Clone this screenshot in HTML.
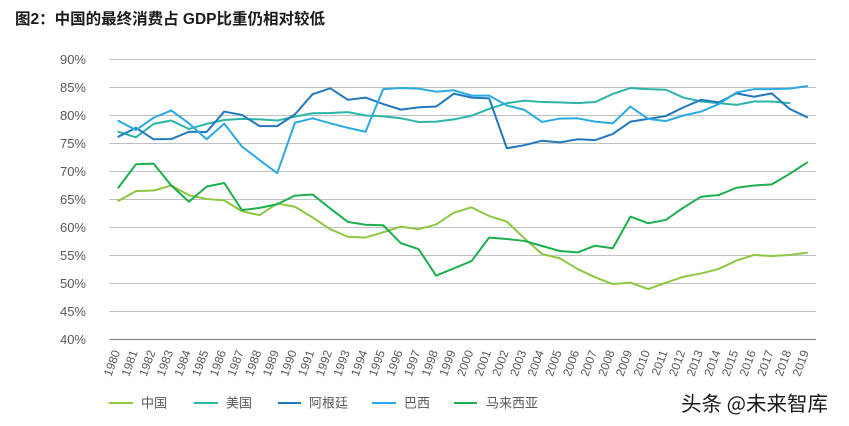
<!DOCTYPE html>
<html>
<head>
<meta charset="utf-8">
<style>
  html,body{margin:0;padding:0;background:#fff;}
  body{width:849px;height:426px;overflow:hidden;}
  svg{display:block;}
  .yl{font-family:"Liberation Sans","Noto Sans CJK SC",sans-serif;font-size:13px;fill:#595959;}
  .xl{font-family:"Liberation Sans","Noto Sans CJK SC",sans-serif;font-size:12px;fill:#595959;}
  .lg{font-family:"Liberation Sans","Noto Sans CJK SC",sans-serif;font-size:13px;fill:#595959;}
</style>
</head>
<body>
<svg width="849" height="426" viewBox="0 0 849 426" xmlns="http://www.w3.org/2000/svg">
  <text x="15" y="24" font-family="'Liberation Sans','Noto Sans CJK SC',sans-serif" font-size="15.5" font-weight="bold" fill="#1a1a1a">图2：中国的最终消费占 GDP比重仍相对较低</text>

  <g stroke="#BFBFBF" stroke-width="1">
    <line x1="109.5" y1="59.5" x2="816" y2="59.5"/>
    <line x1="109.5" y1="87.5" x2="816" y2="87.5"/>
    <line x1="109.5" y1="115.5" x2="816" y2="115.5"/>
    <line x1="109.5" y1="143.5" x2="816" y2="143.5"/>
    <line x1="109.5" y1="171.5" x2="816" y2="171.5"/>
    <line x1="109.5" y1="199.5" x2="816" y2="199.5"/>
    <line x1="109.5" y1="227.5" x2="816" y2="227.5"/>
    <line x1="109.5" y1="255.5" x2="816" y2="255.5"/>
    <line x1="109.5" y1="283.5" x2="816" y2="283.5"/>
    <line x1="109.5" y1="311.5" x2="816" y2="311.5"/>
  </g>
  <line x1="109.5" y1="339.5" x2="816" y2="339.5" stroke="#8C8C8C" stroke-width="1.3"/>

  <g class="yl" text-anchor="end" dominant-baseline="central">
    <text x="86" y="59.5">90%</text>
    <text x="86" y="87.5">85%</text>
    <text x="86" y="115.5">80%</text>
    <text x="86" y="143.5">75%</text>
    <text x="86" y="171.5">70%</text>
    <text x="86" y="199.5">65%</text>
    <text x="86" y="227.5">60%</text>
    <text x="86" y="255.5">55%</text>
    <text x="86" y="283.5">50%</text>
    <text x="86" y="311.5">45%</text>
    <text x="86" y="339.5">40%</text>
  </g>

  <g class="xl" text-anchor="end">
    <text transform="translate(120.3,352) rotate(-70)">1980</text>
    <text transform="translate(137.96,352) rotate(-70)">1981</text>
    <text transform="translate(155.62,352) rotate(-70)">1982</text>
    <text transform="translate(173.28,352) rotate(-70)">1983</text>
    <text transform="translate(190.94,352) rotate(-70)">1984</text>
    <text transform="translate(208.6,352) rotate(-70)">1985</text>
    <text transform="translate(226.26,352) rotate(-70)">1986</text>
    <text transform="translate(243.92,352) rotate(-70)">1987</text>
    <text transform="translate(261.58,352) rotate(-70)">1988</text>
    <text transform="translate(279.24,352) rotate(-70)">1989</text>
    <text transform="translate(296.9,352) rotate(-70)">1990</text>
    <text transform="translate(314.56,352) rotate(-70)">1991</text>
    <text transform="translate(332.22,352) rotate(-70)">1992</text>
    <text transform="translate(349.88,352) rotate(-70)">1993</text>
    <text transform="translate(367.54,352) rotate(-70)">1994</text>
    <text transform="translate(385.2,352) rotate(-70)">1995</text>
    <text transform="translate(402.86,352) rotate(-70)">1996</text>
    <text transform="translate(420.52,352) rotate(-70)">1997</text>
    <text transform="translate(438.18,352) rotate(-70)">1998</text>
    <text transform="translate(455.84,352) rotate(-70)">1999</text>
    <text transform="translate(473.5,352) rotate(-70)">2000</text>
    <text transform="translate(491.16,352) rotate(-70)">2001</text>
    <text transform="translate(508.82,352) rotate(-70)">2002</text>
    <text transform="translate(526.48,352) rotate(-70)">2003</text>
    <text transform="translate(544.14,352) rotate(-70)">2004</text>
    <text transform="translate(561.8,352) rotate(-70)">2005</text>
    <text transform="translate(579.46,352) rotate(-70)">2006</text>
    <text transform="translate(597.12,352) rotate(-70)">2007</text>
    <text transform="translate(614.78,352) rotate(-70)">2008</text>
    <text transform="translate(632.44,352) rotate(-70)">2009</text>
    <text transform="translate(650.1,352) rotate(-70)">2010</text>
    <text transform="translate(667.76,352) rotate(-70)">2011</text>
    <text transform="translate(685.42,352) rotate(-70)">2012</text>
    <text transform="translate(703.08,352) rotate(-70)">2013</text>
    <text transform="translate(720.74,352) rotate(-70)">2014</text>
    <text transform="translate(738.4,352) rotate(-70)">2015</text>
    <text transform="translate(756.06,352) rotate(-70)">2016</text>
    <text transform="translate(773.72,352) rotate(-70)">2017</text>
    <text transform="translate(791.38,352) rotate(-70)">2018</text>
    <text transform="translate(809.04,352) rotate(-70)">2019</text>
  </g>

  <g transform="translate(118.3,563.5) scale(17.66,-5.6)" fill="none" stroke-width="2" stroke-linejoin="round" stroke-linecap="round">
    <polyline vector-effect="non-scaling-stroke" stroke="#8DC63F" points="0,64.75 1,66.5 2,66.6 3,67.5 4,65.75 5,65.1 6,64.85 7,62.9 8,62.2 9,64.3 10,63.7 11,61.8 12,59.7 13,58.35 14,58.2 15,59.15 16,60.15 17,59.7 18,60.55 19,62.65 20,63.6 21,62.05 22,61.05 23,58.05 24,55.25 25,54.5 26,52.6 27,51.1 28,49.9 29,50.15 30,49.0 31,50.15 32,51.2 33,51.8 34,52.6 35,54.1 36,55.1 37,54.9 38,55.1 39,55.5"/>
    <polyline vector-effect="non-scaling-stroke" stroke="#2BB5A6" points="0,77.1 1,76.1 2,78.5 3,79.1 4,77.6 5,78.5 6,79.2 7,79.4 8,79.3 9,79.1 10,79.8 11,80.4 12,80.45 13,80.6 14,80.0 15,79.85 16,79.5 17,78.85 18,78.9 19,79.3 20,79.95 21,81.2 22,82.2 23,82.65 24,82.4 25,82.35 26,82.2 27,82.4 28,83.85 29,84.9 30,84.7 31,84.6 32,83.2 33,82.5 34,82.2 35,81.9 36,82.5 37,82.5 38,82.2"/>
    <polyline vector-effect="non-scaling-stroke" stroke="#2178BD" points="0,76.2 1,77.8 2,75.75 3,75.8 4,77.1 5,77.05 6,80.7 7,80.1 8,78.1 9,78.1 10,80.2 11,83.8 12,84.85 13,82.8 14,83.2 15,82.05 16,81.05 17,81.45 18,81.6 19,83.9 20,83.2 21,83.05 22,74.15 23,74.7 24,75.5 25,75.2 26,75.75 27,75.6 28,76.7 29,78.9 30,79.4 31,79.9 32,81.45 33,82.8 34,82.35 35,83.95 36,83.35 37,83.95 38,81.2 39,79.7"/>
    <polyline vector-effect="non-scaling-stroke" stroke="#29AAE3" points="0,79.05 1,77.4 2,79.6 3,80.9 4,78.6 5,75.75 6,78.55 7,74.45 8,72.05 9,69.7 10,78.7 11,79.5 12,78.6 13,77.8 14,77.1 15,84.7 16,84.9 17,84.8 18,84.25 19,84.5 20,83.55 21,83.55 22,81.8 23,81.0 24,78.85 25,79.45 26,79.5 27,78.9 28,78.6 29,81.6 30,79.4 31,79.0 32,80.0 33,80.7 34,82.05 35,84.1 36,84.7 37,84.7 38,84.8 39,85.25"/>
    <polyline vector-effect="non-scaling-stroke" stroke="#1DAF4E" points="0,67.1 1,71.3 2,71.4 3,67.5 4,64.6 5,67.3 6,67.95 7,63.1 8,63.5 9,64.15 10,65.7 11,65.9 12,63.4 13,61.0 14,60.5 15,60.4 16,57.2 17,56.15 18,51.4 19,52.7 20,54.0 21,58.2 22,57.95 23,57.6 24,56.7 25,55.8 26,55.55 27,56.75 28,56.3 29,61.95 30,60.75 31,61.35 32,63.55 33,65.5 34,65.8 35,67.1 36,67.5 37,67.7 38,69.55 39,71.6"/>
  </g>

  <g stroke-width="2">
    <line x1="109" y1="403" x2="133" y2="403" stroke="#8DC63F"/>
    <line x1="194" y1="403" x2="218" y2="403" stroke="#2BB5A6"/>
    <line x1="278" y1="403" x2="301" y2="403" stroke="#2178BD"/>
    <line x1="372" y1="403" x2="396" y2="403" stroke="#29AAE3"/>
    <line x1="454" y1="403" x2="477" y2="403" stroke="#1DAF4E"/>
  </g>
  <g class="lg" dominant-baseline="central">
    <text x="141" y="403">中国</text>
    <text x="226" y="403">美国</text>
    <text x="309" y="403">阿根廷</text>
    <text x="404" y="403">巴西</text>
    <text x="486" y="403">马来西亚</text>
  </g>

  <text x="681" y="402" dominant-baseline="central" font-family="'Noto Sans CJK SC','WenQuanYi Zen Hei',sans-serif" font-size="20.5" fill="#1a1a1a" stroke="#ffffff" stroke-width="0.6" paint-order="stroke">头条 @未来智库</text>
</svg>
</body>
</html>
